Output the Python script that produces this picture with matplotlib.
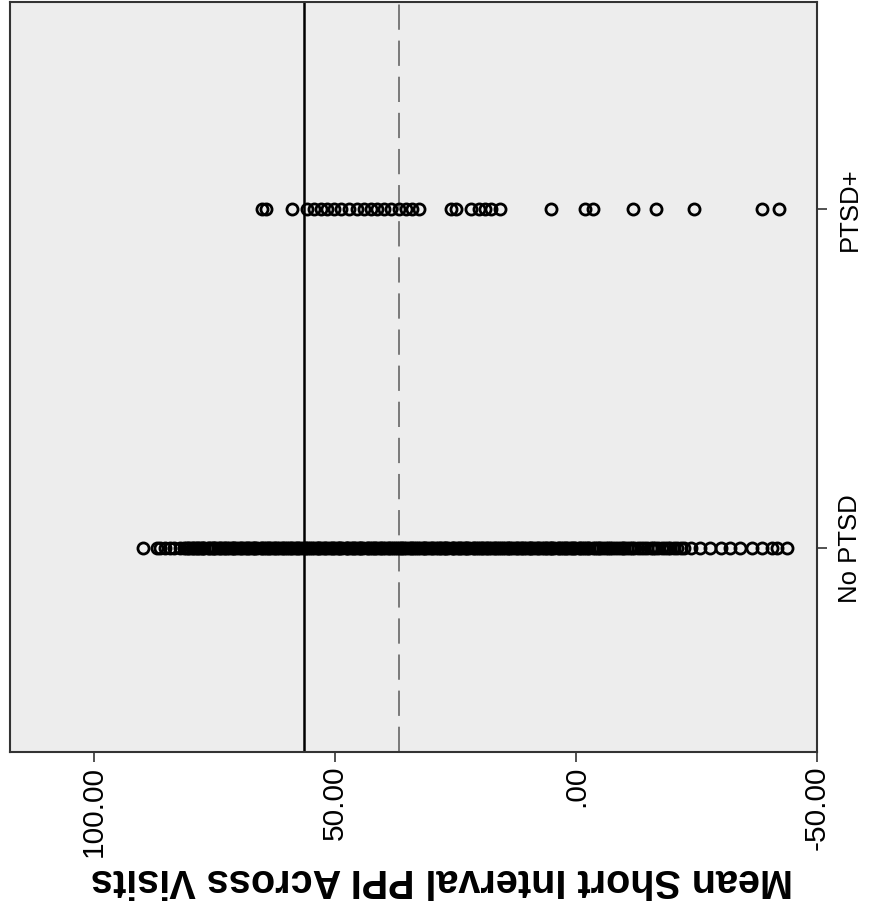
import numpy as np
import matplotlib.pyplot as plt

plt.rcParams['font.family'] = ['Liberation Sans', 'DejaVu Sans']

groups = ['No PTSD', 'PTSD+']
ref_solid = 56.4
ref_dashed = 36.8

no_ptsd = [89.9, 87.0, 86.2, 85.3, 84.3, 83.3, 82.2, 81.4,
           80.8, 80.2, 79.7, 79.1, 78.6, 78.0, 77.5, 77.1, 76.4, 75.8, 75.3, 74.9,
           74.2, 73.6, 73.1, 72.7, 72.0, 71.4, 70.9, 70.5, 69.8, 69.2, 68.7, 68.3,
           67.6, 67.0, 66.5, 66.1, 65.4, 64.8, 64.3, 63.9, 63.2, 62.6, 62.1, 61.7,
           61.0, 60.4, 59.9, 59.5, 58.8, 58.2, 57.7, 57.3, 56.6, 56.0, 55.5, 55.1,
           54.4, 53.8, 53.3, 52.9, 52.2, 51.6, 51.1, 50.7, 50.0, 49.4, 48.9, 48.5,
           47.8, 47.2, 46.7, 46.3, 45.6, 45.0, 44.5, 44.1, 43.4, 42.8, 42.3, 41.9,
           41.2, 40.6, 40.1, 39.7, 39.0, 38.4, 37.9, 37.5, 36.8, 36.2, 35.7, 35.3,
           34.6, 34.0, 33.5, 33.1, 32.4, 31.8, 31.3, 30.9, 30.2, 29.6, 29.1, 28.7,
           28.0, 27.4, 26.9, 26.5, 25.8, 25.2, 24.7, 24.3, 23.6, 23.0, 22.5, 22.1,
           21.4, 20.8, 20.3, 19.9, 19.2, 18.6, 18.1, 17.7, 17.0, 16.4, 15.9, 15.5,
           14.8, 14.2, 13.7, 13.3, 12.6, 12.0, 11.5, 11.1, 10.4, 9.8, 9.3, 8.9,
           8.2, 7.6, 7.1, 6.7, 6.0, 5.4, 4.9, 4.5, 3.8, 3.2, 2.7, 2.3, 1.6, 1.0,
           0.5, 0.1, -0.6, -1.2, -1.7, -2.1, -2.8,
           80.5, 79.4, 78.3, 77.3, 76.1, 75.0, 73.9, 72.4, 71.1, 69.5, 68.0, 66.8,
           65.1, 63.6, 62.4, 60.7, 59.2, 57.9, 56.3, 54.7, 53.6, 52.0, 50.3, 49.1,
           47.5, 46.0, 44.8, 43.1, 41.6, 40.4, 38.7, 37.2, 36.0, 34.3, 32.8, 31.6,
           29.9, 28.3, 27.2, 25.5, 24.0, 22.8, 21.1, 19.5, 18.4, 16.7, 15.2, 14.0,
           12.3, 10.8, 9.6, 7.9, 6.3, 5.2, 3.5, 2.0, 0.8, -0.9, -2.4,
           -3.5, -4.3, -5.0, -6.2, -7.0, -8.1, -9.3, -10.0, -11.2, -12.1, -13.5,
           -14.2, -15.6, -16.4, -17.8, -19.0, -20.3,
           -3.9, -4.7, -5.6, -6.6, -7.5, -8.7, -9.7, -10.6, -11.7, -12.8, -14.8,
           -16.0, -17.1, -18.4, -19.6, -21.0, -22.5,
           -21.7, -23.8, -25.8, -27.9, -30.0, -32.0, -34.1, -36.6, -38.6, -40.7,
           -41.7, -43.8]

ptsd_pos = [65.1, 64.3, 58.9,
            55.8, 54.4, 52.9, 51.7, 50.2, 48.8, 47.1, 45.5, 44.0, 42.6, 41.3,
            39.9, 38.4, 36.8, 35.3, 34.1, 32.6,
            26.0, 24.8, 21.7, 20.2, 18.8, 17.6, 15.7, 5.2, -1.9, -3.5,
            -11.8, -16.5, -24.4, -38.6, -42.1]

fig = plt.figure(figsize=(8.73, 9.09), dpi=100)
ax = fig.add_axes([10 / 873, 1 - 752 / 909, 807 / 873, 750 / 909])
ax.set_facecolor('#ededed')

ax.axvline(ref_solid, color='black', lw=1.8, zorder=1)
ax.axvline(ref_dashed, color='#707070', lw=1.3, ls=(0, (14, 6)), zorder=1)

for i, vals in enumerate([no_ptsd, ptsd_pos]):
    ax.plot(vals, np.full(len(vals), i), ls='none', marker='o', ms=8,
            mfc='none', mec='black', mew=2.0, zorder=3)

ax.set_xlim(117.4, -50)
ax.set_ylim(-0.6, 1.61)

ax.set_xticks([100, 50, 0, -50])
ax.set_xticklabels(['100.00', '50.00', '.00', '-50.00'], rotation=90, fontsize=21.5)
ax.set_yticks([0, 1])
ax.set_yticklabels(groups, rotation=90, va='center', fontsize=18.5)
ax.yaxis.tick_right()
ax.tick_params(axis='both', length=7, width=1.2, color='#333333', pad=3)
ax.tick_params(axis='y', pad=8)

ax.set_xlabel('Mean Short Interval PPI Across Visits', rotation=180,
              fontsize=28.5, fontweight='bold')
ax.xaxis.set_label_coords(0.535, -0.145)

for s in ax.spines.values():
    s.set_color('#333333')
    s.set_linewidth(1.5)

fig.savefig('out.png', dpi=100)
